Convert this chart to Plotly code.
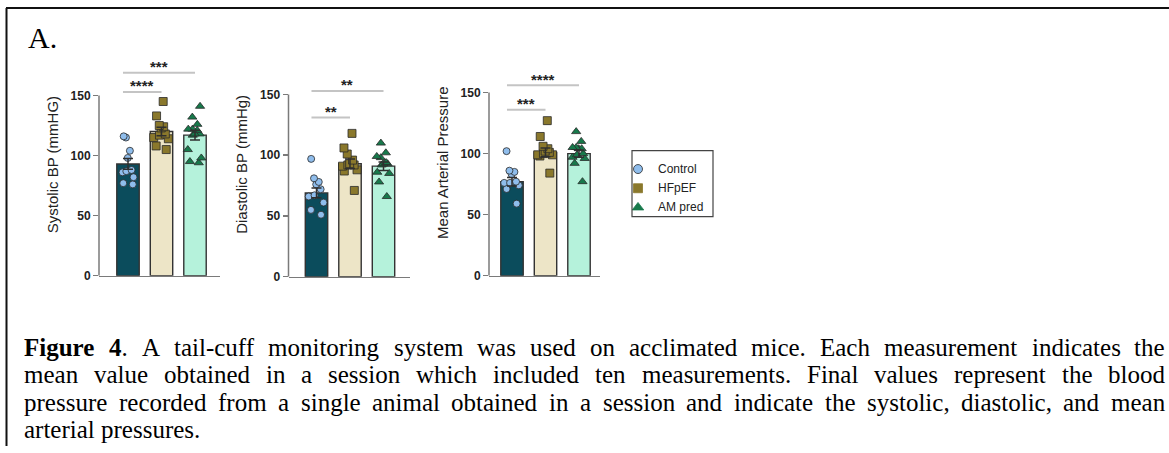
import plotly.graph_objects as go

W, H = 1169, 453


def PX(x):
    return x / W


def PY(y):
    return 1 - y / H


groups = ["Control", "HFpEF", "AM pred"]

# Systolic BP (mmHG)
sys_control = [116, 115, 104, 98, 87, 86, 88, 82, 76, 77]
sys_hfpef = [145, 133, 124, 123, 125, 118, 117, 115, 114, 108, 105]
sys_am = [141, 132, 126, 122, 122, 121, 118, 117, 118, 105, 98, 95, 94]
sys_means = [93, 120, 117]
sys_sem = [4.5, 3.5, 4.0]

# Diastolic BP (mmHg)
dia_control = [97, 81, 78, 76, 72, 67, 66, 61, 55, 51]
dia_hfpef = [118, 106, 101, 96, 93, 92, 92, 91, 88, 87, 71]
dia_am = [110, 102, 99, 98, 94, 93, 93, 92, 86, 85, 78, 66]
dia_means = [69, 93, 91]
dia_sem = [4.0, 4.0, 3.5]

# Mean Arterial Pressure
map_control = [102, 86, 85, 83, 77, 76, 76, 74, 71, 59]
map_hfpef = [127, 114, 106, 104, 102, 101, 100, 99, 99, 98, 84]
map_am = [118, 110, 105, 105, 104, 104, 100, 99, 97, 96, 92, 77]
map_means = [77, 101, 100]
map_sem = [3.5, 3.5, 3.0]

y_titles = ["Systolic BP (mmHG)", "Diastolic BP (mmHg)", "Mean Arterial Pressure"]
y_ticks = [0, 50, 100, 150]

# significance comparisons: (from group, to group)
sig_pairs = [(0, 1), (0, 2)]
sig_labels = [["****", "***"], ["**", "**"], ["***", "****"]]
sig_heights = [[153, 169], [131, 153], [136, 156]]

caption_lines = [
    "Figure 4. A tail-cuff monitoring system was used on acclimated mice. Each measurement indicates the",
    "mean value obtained in a session which included ten measurements. Final values represent the blood",
    "pressure recorded from a single animal obtained in a session and indicate the systolic, diastolic, and mean",
    "arterial pressures.",
]
caption_bold = "Figure 4"

# ---------------- styles / layout geometry ----------------
bar_colors = ["#0b4c5c", "#ede5c7", "#b5f2db"]
pt_colors = ["#8fbdec", "#8a782c", "#17794b"]
pt_symbols = ["circle", "square", "triangle-up"]
pt_sizes = [7, 8, 8]

# panel geometry in pixels: x-axis left/right, first bar centre, spacing, y px of 0 and 150
panels = [
    dict(xl=99, xr=220, c0=128, sp=33.5, y0=280, y150=97),
    dict(xl=288.5, xr=410, c0=316.5, sp=33.5, y0=281, y150=96),
    dict(xl=489, xr=600, c0=512, sp=33.5, y0=280, y150=94),
]
YMAX = 185

data_sets = [
    ([sys_control, sys_hfpef, sys_am], sys_means, sys_sem),
    ([dia_control, dia_hfpef, dia_am], dia_means, dia_sem),
    ([map_control, map_hfpef, map_am], map_means, map_sem),
]

fig = go.Figure()
layout_axes = {}
shapes = []
annotations = []

for i, (pts, means, sems) in enumerate(data_sets):
    p = panels[i]
    xa = "x" if i == 0 else f"x{i+1}"
    ya = "y" if i == 0 else f"y{i+1}"
    xkey = "xaxis" if i == 0 else f"xaxis{i+1}"
    ykey = "yaxis" if i == 0 else f"yaxis{i+1}"
    pxu = (p["y0"] - p["y150"]) / 150.0
    ytop = p["y0"] - YMAX * pxu
    xr0 = -(p["c0"] - p["xl"]) / p["sp"]
    xr1 = 2 + (p["xr"] - (p["c0"] + 2 * p["sp"])) / p["sp"]

    fig.add_trace(go.Bar(
        x=[0, 1, 2], y=means, width=0.67,
        marker=dict(color=bar_colors, line=dict(color="#333333", width=1.4)),
        xaxis=xa, yaxis=ya, showlegend=False, hoverinfo="skip",
    ))
    for g in range(3):
        fig.add_trace(go.Box(
            x=[g] * len(pts[g]), y=pts[g], width=0.55,
            boxpoints="all", jitter=1.0, pointpos=0,
            fillcolor="rgba(0,0,0,0)", line=dict(color="rgba(0,0,0,0)", width=0),
            marker=dict(color=pt_colors[g], symbol=pt_symbols[g], size=pt_sizes[g], opacity=1,
                        line=dict(color="#2a2a2a", width=0.8)),
            xaxis=xa, yaxis=ya, showlegend=False, hoverinfo="skip",
        ))
    fig.add_trace(go.Scatter(
        x=[0, 1, 2], y=means, mode="markers",
        marker=dict(size=1, opacity=0),
        error_y=dict(type="data", array=sems, visible=True, color="#2f2f2f", thickness=1.5, width=5),
        xaxis=xa, yaxis=ya, showlegend=False, hoverinfo="skip",
    ))

    layout_axes[xkey] = dict(
        domain=[PX(p["xl"]), PX(p["xr"])], range=[xr0, xr1], anchor=ya,
        showgrid=False, zeroline=False, showticklabels=False, ticks="",
        showline=True, linecolor="#7a7a7a", linewidth=1.5,
    )
    layout_axes[ykey] = dict(
        domain=[PY(p["y0"]), PY(ytop)], range=[0, YMAX], anchor=xa,
        showgrid=False, zeroline=False, showline=False,
        tickvals=y_ticks, ticks="outside", ticklen=5, tickwidth=1.5, tickcolor="#7a7a7a",
        tickfont=dict(family="Liberation Sans", size=12, color="#222222", weight="bold"),
        title=dict(text=y_titles[i], font=dict(family="Liberation Sans", size=15, color="#222222"),
                   standoff=8),
    )
    # y-axis line only up to 150
    shapes.append(dict(type="line", xref=f"{xa} domain", yref=ya, x0=0, x1=0, y0=0, y1=150,
                       line=dict(color="#7a7a7a", width=1.5)))
    # significance brackets
    for k, (a, b) in enumerate(sig_pairs):
        h = sig_heights[i][k]
        shapes.append(dict(type="line", xref=xa, yref=ya, x0=a - 0.15, x1=b, y0=h, y1=h,
                           line=dict(color="#c4c4c4", width=2)))
        annotations.append(dict(x=(a - 0.15 + b) / 2, y=h, xref=xa, yref=ya, yshift=6,
                                text=sig_labels[i][k], showarrow=False, yanchor="middle",
                                font=dict(family="Liberation Sans", size=15, color="#222222",
                                          weight="bold")))

# ---------------- legend (boxed, drawn on its own hidden axis) ----------------
LG = dict(l=632, r=713, t=153, b=220, mx=638, tx=656, y_first=171.7, step=19.5)
for g in range(3):
    fig.add_trace(go.Scatter(
        x=[0], y=[g], mode="markers",
        marker=dict(color=pt_colors[g], symbol=pt_symbols[g], size=[9, 9, 10][g], opacity=1,
                    line=dict(color="#2a2a2a" if g == 0 else pt_colors[g], width=0.8)),
        xaxis="x4", yaxis="y4", showlegend=False, hoverinfo="skip",
    ))
layout_axes["xaxis4"] = dict(domain=[PX(LG["l"]), PX(LG["r"])], anchor="y4", visible=False,
                             range=[LG["l"] - LG["mx"], LG["r"] - LG["mx"]], fixedrange=True)
layout_axes["yaxis4"] = dict(domain=[PY(LG["b"]), PY(LG["t"])], anchor="x4", visible=False,
                             range=[2 + (LG["b"] - (LG["y_first"] + 2 * LG["step"])) / LG["step"],
                                    -(LG["y_first"] - LG["t"]) / LG["step"]], fixedrange=True)
for g in range(3):
    annotations.append(dict(x=LG["tx"] - LG["mx"], y=g, xref="x4", yref="y4", text=groups[g],
                            showarrow=False, xanchor="left", yanchor="middle",
                            font=dict(family="Liberation Sans", size=12, color="#222222")))
shapes.append(dict(type="rect", xref="paper", yref="paper", x0=PX(LG["l"]), x1=PX(LG["r"]),
                   y0=PY(LG["b"]), y1=PY(LG["t"]), line=dict(color="#444444", width=1.2)))

# figure border (left and top)
shapes.append(dict(type="line", xref="paper", yref="paper", x0=PX(6.5), x1=PX(6.5), y0=0, y1=PY(8),
                   line=dict(color="#111111", width=2)))
shapes.append(dict(type="line", xref="paper", yref="paper", x0=PX(6), x1=1, y0=PY(8), y1=PY(8),
                   line=dict(color="#111111", width=2)))

annotations.append(dict(x=PX(27), y=PY(38), xref="paper", yref="paper", text="A.",
                        showarrow=False, xanchor="left", yanchor="middle", borderpad=0,
                        font=dict(family="Liberation Serif", size=30, color="#000000")))

# ---------------- caption: justified text (Times metrics, Liberation Serif is metric-compatible)
TIMES = {' ': 250, '.': 250, ',': 250, '-': 333, '4': 500, 'A': 722, 'E': 611, 'F': 556,
         'a': 444, 'b': 500, 'c': 444, 'd': 500, 'e': 444, 'f': 333, 'g': 500, 'h': 500,
         'i': 278, 'j': 278, 'k': 500, 'l': 278, 'm': 778, 'n': 500, 'o': 500, 'p': 500,
         'q': 500, 'r': 333, 's': 389, 't': 278, 'u': 500, 'v': 500, 'w': 722, 'x': 500,
         'y': 500, 'z': 444}
TIMES_BOLD = {' ': 250, '4': 500, 'F': 611, 'i': 278, 'g': 500, 'u': 556, 'r': 444, 'e': 444}

CAP_FS = 25
CAP_L, CAP_R = 24, 1165
cap_baselines = [361, 389, 417, 445]


def word_width(w, bold):
    tab = TIMES_BOLD if bold else TIMES
    return sum(tab.get(c, 500) for c in w) * CAP_FS / 1000.0


for li, (line, base) in enumerate(zip(caption_lines, cap_baselines)):
    words = line.split(" ")
    nb = len(caption_bold.split(" ")) if li == 0 else 0
    items = []
    for wi, w in enumerate(words):
        if wi < nb:
            core = w.rstrip(".")
            tail = w[len(core):]
            txt = f"<b>{core}</b>{tail}"
            wid = word_width(core, True) + word_width(tail, False)
        else:
            txt = w
            wid = word_width(w, False)
        items.append((txt, wid))
    total = sum(wd for _, wd in items)
    if li < len(caption_lines) - 1:
        gap = (CAP_R - CAP_L - total) / (len(items) - 1)
    else:
        gap = TIMES[' '] * CAP_FS / 1000.0
    x = CAP_L
    cy = base - 0.3375 * CAP_FS
    for txt, wd in items:
        annotations.append(dict(x=PX(x), y=PY(cy), xref="paper", yref="paper", text=txt,
                                showarrow=False, xanchor="left", yanchor="middle", borderpad=0,
                                borderwidth=0,
                                font=dict(family="Liberation Serif", size=CAP_FS, color="#000000")))
        x += wd + gap

fig.update_layout(
    width=W, height=H, margin=dict(l=0, r=0, t=0, b=0),
    paper_bgcolor="white", plot_bgcolor="white",
    shapes=shapes, annotations=annotations,
    showlegend=False,
    **layout_axes,
)

# remove the default 8px page margin so the 1169x453 figure fills the window exactly
fig.write_html("out.html",
               config={"displayModeBar": False, "staticPlot": True},
               post_script="document.body.style.margin='0';document.body.style.overflow='hidden';")
